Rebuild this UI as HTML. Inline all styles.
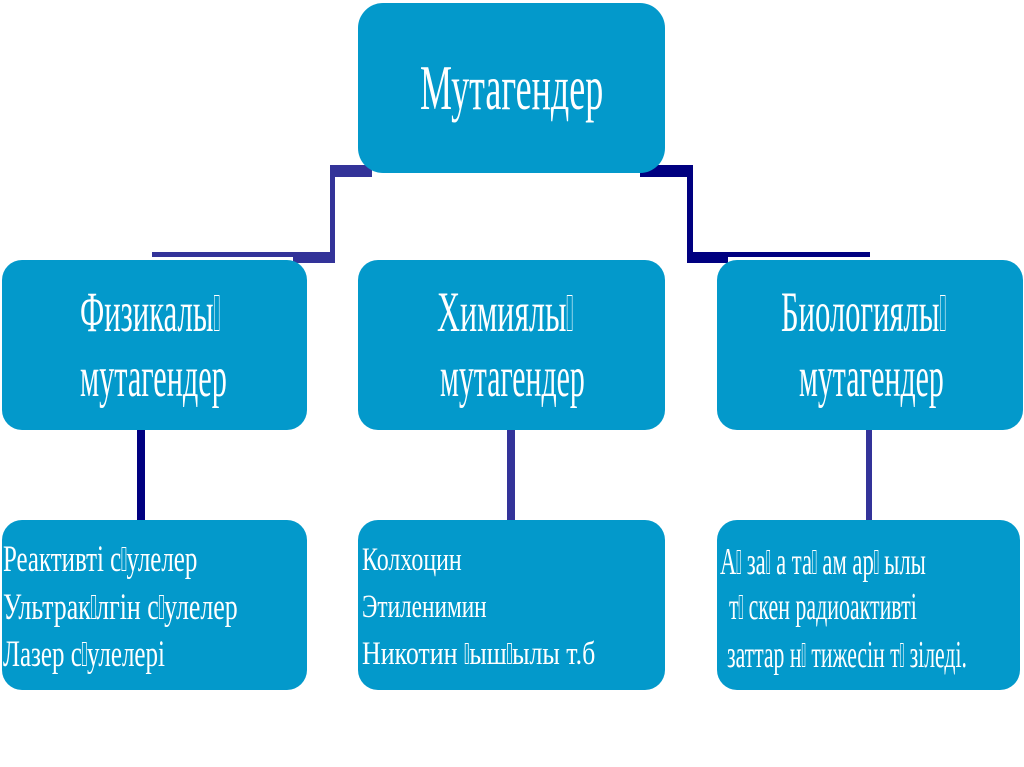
<!DOCTYPE html>
<html>
<head>
<meta charset="utf-8">
<style>
  html,body{margin:0;padding:0;background:#fff;}
  body{width:1024px;height:767px;position:relative;overflow:hidden;}
  svg{position:absolute;left:0;top:0;}
  .t{position:absolute;white-space:nowrap;color:#fff;font-family:"Liberation Serif","DejaVu Serif",serif;line-height:1;transform-origin:0 0;display:inline-block;}
  .b{display:inline-block;width:0.17em;height:0.64em;border:1px solid #fff;box-sizing:border-box;vertical-align:baseline;margin:0 0.02em;}
</style>
</head>
<body>
<svg width="1024" height="767" viewBox="0 0 1024 767">
  <!-- left top connector -->
  <g fill="#333399">
    <rect x="330" y="165" width="42" height="12"/>
    <rect x="330" y="165" width="5" height="98"/>
    <rect x="152" y="252" width="183" height="5"/>
    <rect x="293" y="252" width="42" height="11"/>
  </g>
  <!-- right top connector -->
  <g fill="#000080">
    <rect x="640" y="165" width="53" height="12"/>
    <rect x="687" y="165" width="6" height="98"/>
    <rect x="687" y="252" width="183" height="5"/>
    <rect x="687" y="252" width="41" height="11"/>
  </g>
  <!-- vertical connectors -->
  <rect x="137" y="428" width="8" height="96" fill="#000080"/>
  <rect x="507" y="430" width="8" height="90" fill="#333399"/>
  <rect x="866" y="430" width="6" height="95" fill="#333399"/>

  <g fill="#0399cb">
    <rect x="358" y="3" width="307" height="170" rx="25" ry="25"/>
    <rect x="2" y="260" width="305" height="170" rx="20" ry="20"/>
    <rect x="358" y="260" width="307" height="170" rx="20" ry="20"/>
    <rect x="717" y="260" width="306" height="170" rx="20" ry="20"/>
    <rect x="2" y="520" width="305" height="170" rx="20" ry="20"/>
    <rect x="358" y="520" width="307" height="170" rx="20" ry="20"/>
    <rect x="717" y="520" width="303" height="170" rx="20" ry="20"/>
  </g>
</svg>

<div class="t" style="left:420px;top:57px;font-size:63px;transform:scaleX(0.56)">Мутагендер</div>

<div class="t" style="left:80px;top:284px;font-size:57px;transform:scaleX(0.6)">Физикалы<span class="b"></span></div>
<div class="t" style="left:80px;top:349px;font-size:57px;transform:scaleX(0.55)">мутагендер</div>
<div class="t" style="left:437px;top:284px;font-size:57px;transform:scaleX(0.6)">Химиялы<span class="b"></span></div>
<div class="t" style="left:440px;top:349px;font-size:57px;transform:scaleX(0.55)">мутагендер</div>
<div class="t" style="left:781px;top:284px;font-size:57px;transform:scaleX(0.6)">Биологиялы<span class="b"></span></div>
<div class="t" style="left:799px;top:349px;font-size:57px;transform:scaleX(0.55)">мутагендер</div>

<div class="t" style="left:3px;top:541px;font-size:37px;transform:scaleX(0.65)">Реактивті с<span class="b"></span>улелер</div>
<div class="t" style="left:3px;top:589px;font-size:37px;transform:scaleX(0.65)">Ультрак<span class="b"></span>лгін с<span class="b"></span>улелер</div>
<div class="t" style="left:3px;top:636px;font-size:37px;transform:scaleX(0.65)">Лазер с<span class="b"></span>улелері</div>

<div class="t" style="left:362px;top:544px;font-size:33px;transform:scaleX(0.7)">Колхоцин</div>
<div class="t" style="left:362px;top:591px;font-size:33px;transform:scaleX(0.7)">Этиленимин</div>
<div class="t" style="left:362px;top:638px;font-size:33px;transform:scaleX(0.7)">Никотин <span class="b"></span>ыш<span class="b"></span>ылы т.б</div>

<div class="t" style="left:720px;top:543px;font-size:38px;transform:scaleX(0.6)">А<span class="b"></span> за<span class="b"></span> а та<span class="b"></span> ам ар<span class="b"></span> ылы</div>
<div class="t" style="left:729px;top:588px;font-size:38px;transform:scaleX(0.6)">т<span class="b"></span> скен радиоактивті</div>
<div class="t" style="left:727px;top:636px;font-size:38px;transform:scaleX(0.6)">заттар н<span class="b"></span> тижесін т<span class="b"></span> зіледі.</div>

<script>
(function(){
  var targets=[183,140,147,136,145,165,145,194,235,162,100,125,233,206,188,240];
  var els=document.querySelectorAll('.t');
  for(var i=0;i<els.length&&i<targets.length;i++){
    var el=els[i];
    var w=el.scrollWidth;
    if(w>0){el.style.transform='scaleX('+(targets[i]/w)+')';}
  }
})();
</script>
</body>
</html>
